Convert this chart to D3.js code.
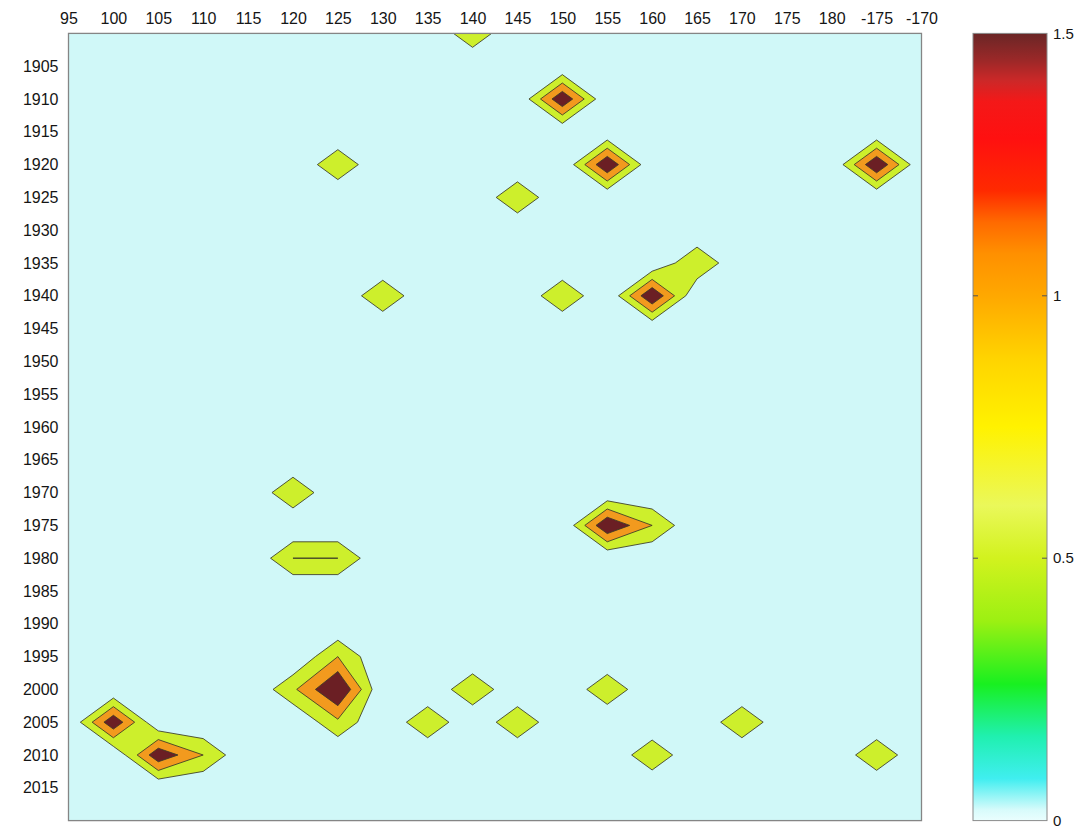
<!DOCTYPE html>
<html><head><meta charset="utf-8">
<script src="https://cdn.jsdelivr.net/npm/d3@7"></script>
<style>
body{margin:0;background:#fff}
svg{display:block}
text{font-family:"Liberation Sans",Arial,sans-serif;fill:#151515}
</style>
</head><body>
<svg id="chart" width="1089" height="830"></svg>
<script>
// ---------------- data ----------------
const lons  = [95,100,105,110,115,120,125,130,135,140,145,150,155,160,165,170,175,180,185,190];
const years = [1900,1905,1910,1915,1920,1925,1930,1935,1940,1945,1950,1955,1960,1965,1970,1975,1980,1985,1990,1995,2000,2005,2010,2015,2020];
const xTickValues = [95,100,105,110,115,120,125,130,135,140,145,150,155,160,165,170,175,180,185,190];
const xTickLabels = ["95","100","105","110","115","120","125","130","135","140","145","150","155","160","165","170","175","180","-175","-170"];
const yTickValues = [1905,1910,1915,1920,1925,1930,1935,1940,1945,1950,1955,1960,1965,1970,1975,1980,1985,1990,1995,2000,2005,2010,2015];
// non-zero grid cells (all others are 0)
const cellLon   = [140, 150, 125, 155, 185, 145, 130, 150, 160, 165, 120, 155, 160, 120, 125, 125, 120, 125, 125, 140, 155, 135, 145, 170, 100, 105, 110, 160, 185];
const cellYear  = [1900,1910,1920,1920,1920,1925,1940,1940,1940,1935,1970,1975,1975,1980,1980,2000,2000,1995,2005,2000,2000,2005,2005,2005,2005,2010,2010,2010,2010];
const cellValue = [0.87,1.95,0.92,2.0, 2.0, 0.95,0.95,0.95,2.0, 0.97,0.94,2.0, 1.0, 1.0, 1.0, 2.1, 0.9, 1.0, 0.89,0.95,0.92,0.95,0.95,0.95,1.9, 1.89,1.0, 0.92,0.94];
const levels      = [0.5, 1.0, 1.5];
const levelColors = ["#cdef2c", "#f29a1e", "#6b1f24"];
const baseColor   = "#d0f8f8";
const cbarStops   = [0, 0.02, 0.08, 0.16, 0.26, 0.38, 0.5, 0.6, 0.75, 0.88, 1.0, 1.08, 1.14, 1.2, 1.3, 1.37, 1.41, 1.45, 1.5];
const cbarColors  = ["#eafefe","#d8fbfb","#40eef0","#20f0b0","#18f020","#9cf012","#d2f21e","#eaf85a","#fff200","#ffd400","#ffa800","#ff9000","#ff6a00","#ff2a00","#ff1010","#f41818","#cc2828","#9a2828","#6a2626"];
const cbarTicks      = [0, 0.5, 1, 1.5];
const cbarTickLabels = ["0", "0.5", "1", "1.5"];

// ---------------- layout ----------------
const svg = d3.select("#chart");
const x = d3.scaleLinear().domain([95, 190]).range([68.5, 921.5]);
const y = d3.scaleLinear().domain([1900, 2020]).range([33.4, 820.6]);
const cy = d3.scaleLinear().domain([0, 1.5]).range([820.6, 33.4]);
const cbX0 = 973, cbX1 = 1047;

// grid
const grid = years.map(() => lons.map(() => 0));
cellValue.forEach((v, k) => {
  grid[years.indexOf(cellYear[k])][lons.indexOf(cellLon[k])] = v;
});

// background
svg.append("rect").attr("x", x(95)).attr("y", y(1900))
  .attr("width", x(190) - x(95)).attr("height", y(2020) - y(1900))
  .attr("fill", baseColor);

// marching squares (linear interpolation, saddle resolved by cell mean)
function cellContour(P, v, t) {
  const ins = v.map(d => d >= t);
  const n = ins.filter(Boolean).length;
  if (n === 0) return {polys: [], segs: []};
  const cross = (a, b) => {
    const f = (t - v[a]) / (v[b] - v[a]);
    return [P[a][0] + f * (P[b][0] - P[a][0]), P[a][1] + f * (P[b][1] - P[a][1])];
  };
  const saddle = (ins[0] && ins[2] && !ins[1] && !ins[3]) || (ins[1] && ins[3] && !ins[0] && !ins[2]);
  if (saddle) {
    const c01 = cross(0, 1), c12 = cross(1, 2), c23 = cross(2, 3), c30 = cross(3, 0);
    const mean = (v[0] + v[1] + v[2] + v[3]) / 4;
    if (mean >= t) {
      if (ins[0]) return {polys: [[P[0], c01, c12, P[2], c23, c30]], segs: [[c01, c12], [c23, c30]]};
      return {polys: [[c01, P[1], c12, c23, P[3], c30]], segs: [[c30, c01], [c12, c23]]};
    } else {
      if (ins[0]) return {polys: [[P[0], c01, c30], [c12, P[2], c23]], segs: [[c01, c30], [c12, c23]]};
      return {polys: [[c01, P[1], c12], [c23, P[3], c30]], segs: [[c01, c12], [c23, c30]]};
    }
  }
  const pts = [], cs = [];
  for (let k = 0; k < 4; k++) {
    const a = k, b = (k + 1) % 4;
    if (ins[a]) pts.push(P[a]);
    if (ins[a] !== ins[b]) { const c = cross(a, b); pts.push(c); cs.push(c); }
  }
  return {polys: [pts], segs: cs.length === 2 ? [[cs[0], cs[1]]] : []};
}

const fillG = svg.append("g");
const lineG = svg.append("g");
levels.forEach((t, li) => {
  const fp = d3.path(), lp = d3.path();
  for (let j = 0; j < years.length - 1; j++) {
    for (let i = 0; i < lons.length - 1; i++) {
      const P = [[x(lons[i]), y(years[j])], [x(lons[i + 1]), y(years[j])],
                 [x(lons[i + 1]), y(years[j + 1])], [x(lons[i]), y(years[j + 1])]];
      const v = [grid[j][i], grid[j][i + 1], grid[j + 1][i + 1], grid[j + 1][i]];
      const r = cellContour(P, v, t);
      r.polys.forEach(poly => {
        poly.forEach((p, k) => k ? fp.lineTo(p[0], p[1]) : fp.moveTo(p[0], p[1]));
        fp.closePath();
      });
      r.segs.forEach(s => { lp.moveTo(s[0][0], s[0][1]); lp.lineTo(s[1][0], s[1][1]); });
    }
  }
  fillG.append("path").attr("d", fp.toString()).attr("fill", levelColors[li]).attr("stroke", "none");
  lineG.append("path").attr("d", lp.toString()).attr("fill", "none")
    .attr("stroke", "#3a3a28").attr("stroke-width", 1).attr("stroke-opacity", 0.85);
});

// frame
svg.append("rect").attr("x", x(95)).attr("y", y(1900))
  .attr("width", x(190) - x(95)).attr("height", y(2020) - y(1900))
  .attr("fill", "none").attr("stroke", "#858585").attr("stroke-width", 1.3);

// axes
const xAxis = d3.axisTop(x).tickValues(xTickValues).tickSize(0).tickPadding(9)
  .tickFormat((d, i) => xTickLabels[i]);
const gx = svg.append("g").attr("transform", `translate(0,${y(1900)})`).call(xAxis);
gx.select(".domain").remove();
gx.selectAll("text").attr("font-size", 16).attr("font-family", "Liberation Sans, Arial, sans-serif").attr("fill", "#151515");

const yAxis = d3.axisLeft(y).tickValues(yTickValues).tickSize(0).tickPadding(10).tickFormat(d3.format("d"));
const gy = svg.append("g").attr("transform", `translate(${x(95)},0)`).call(yAxis);
gy.select(".domain").remove();
gy.selectAll("text").attr("font-size", 16).attr("font-family", "Liberation Sans, Arial, sans-serif").attr("fill", "#151515");

// colorbar
const defs = svg.append("defs");
const grad = defs.append("linearGradient").attr("id", "cbar")
  .attr("x1", 0).attr("y1", 1).attr("x2", 0).attr("y2", 0);
cbarStops.forEach((s, k) => grad.append("stop").attr("offset", s / 1.5).attr("stop-color", cbarColors[k]));
svg.append("rect").attr("x", cbX0).attr("y", cy(1.5)).attr("width", cbX1 - cbX0)
  .attr("height", cy(0) - cy(1.5)).attr("fill", "url(#cbar)")
  .attr("stroke", "#8a8a8a").attr("stroke-width", 1);
const cg = svg.append("g");
cbarTicks.forEach((t, k) => {
  if (t > 0 && t < 1.5) {
    cg.append("line").attr("x1", cbX0).attr("x2", cbX0 + 5).attr("y1", cy(t)).attr("y2", cy(t)).attr("stroke", "#555");
    cg.append("line").attr("x1", cbX1 - 5).attr("x2", cbX1).attr("y1", cy(t)).attr("y2", cy(t)).attr("stroke", "#555");
  }
  cg.append("text").attr("x", cbX1 + 6).attr("y", cy(t)).attr("dy", "0.35em")
    .attr("font-size", 15).text(cbarTickLabels[k]);
});
</script>
</body></html>
